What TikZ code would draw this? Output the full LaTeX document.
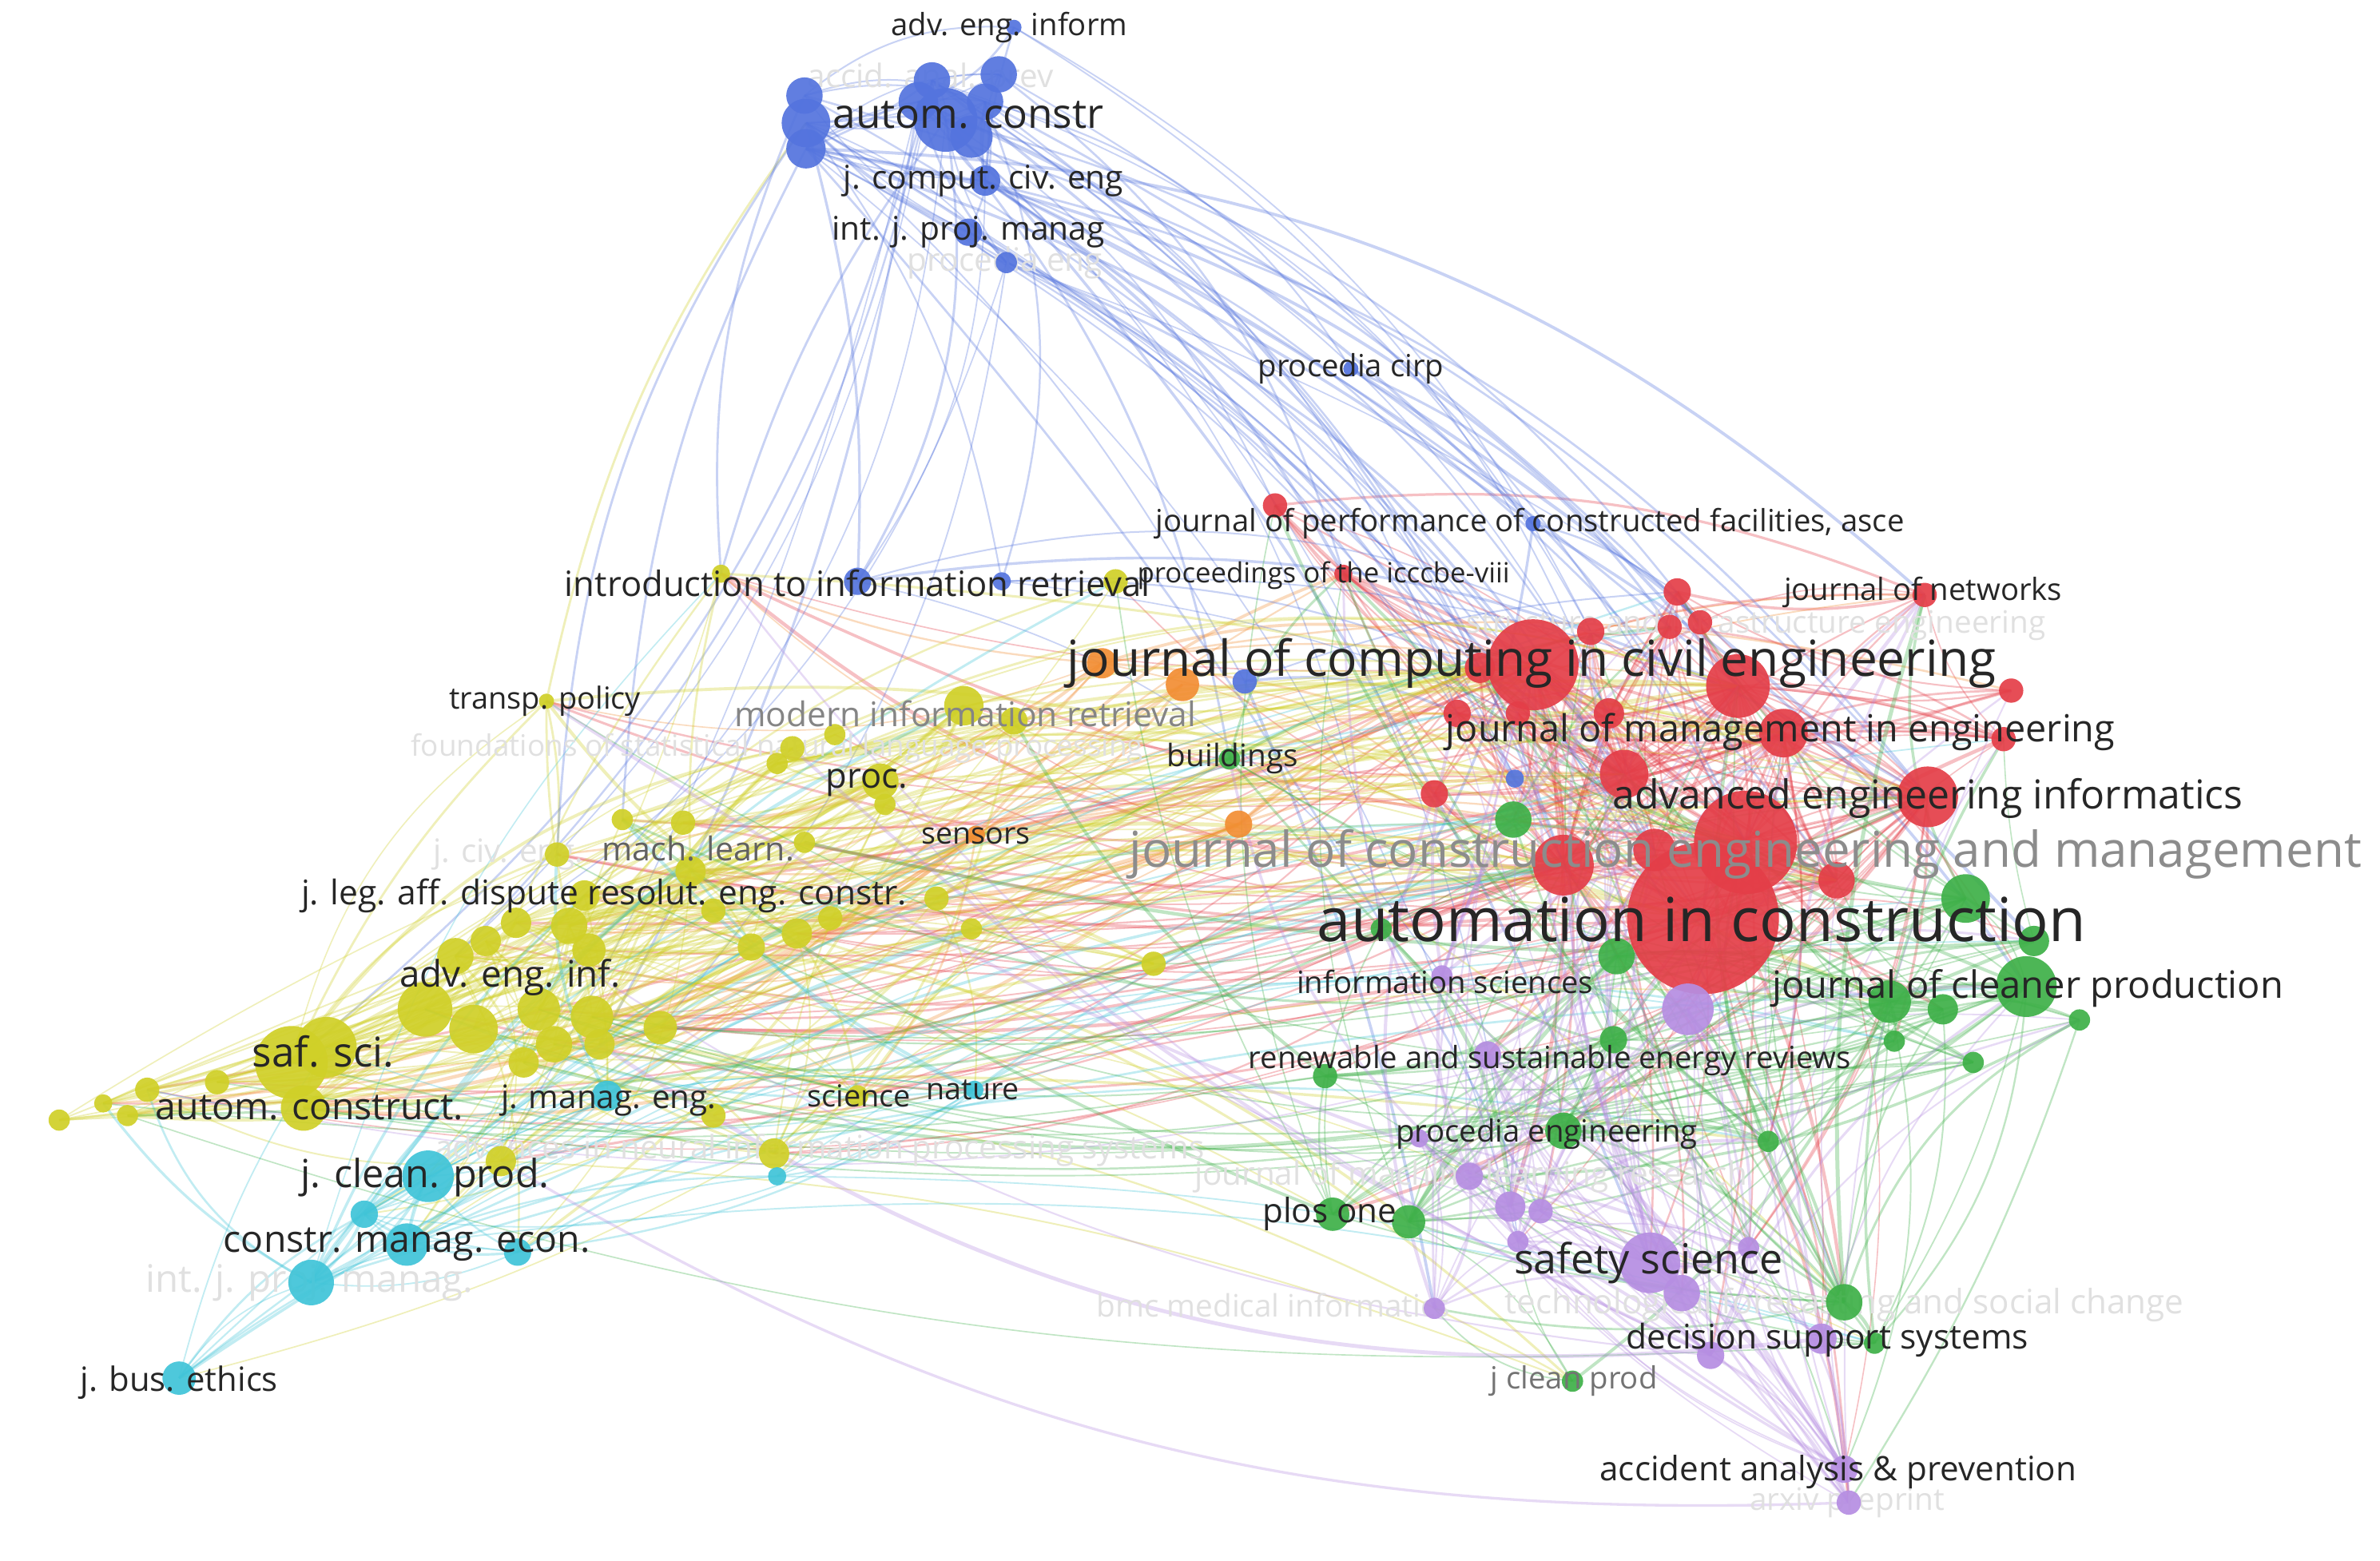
\documentclass[tikz,border=0pt]{standalone}
\usepackage{fontspec}
\setmainfont{Open Sans}
\definecolor{cR}{RGB}{228,62,72}
\definecolor{cG}{RGB}{62,176,72}
\definecolor{cB}{RGB}{84,116,222}
\definecolor{cY}{RGB}{208,208,40}
\definecolor{cC}{RGB}{64,196,216}
\definecolor{cP}{RGB}{182,142,226}
\definecolor{cO}{RGB}{242,142,52}
\definecolor{labtxt}{RGB}{38,38,38}
\pgfdeclarelayer{edges}
\pgfdeclarelayer{faintl}
\pgfsetlayers{edges,faintl,main}
\tikzset{
 ball/.style={circle,fill=#1,fill opacity=0.92,inner sep=0pt,draw=none},
 lbl/.style={inner sep=0pt,text=labtxt},
 fs/.style={font=\fontsize{#1}{#1}\selectfont},
 edge/.style={draw=#1,draw opacity=0.32},
 faint/.style={inner sep=0pt,text=black!12},
}
\newcommand\edg[6]{%
 \foreach \k in {1,...,#5}{%
  \pgfmathtruncatemacro\ia{random(1,#2)}%
  \pgfmathtruncatemacro\ib{random(1,#4)}%
  \pgfmathsetmacro\bd{6+16*rnd}%
  \pgfmathsetmacro\lw{0.45+1.1*rnd*rnd}%
  \edef\pa{#1\ia}\edef\pb{#3\ib}%
  \ifx\pa\pb\else
   \draw[edge=#6,line width=\lw pt] (#1\ia.center) to[bend left=\bd] (#3\ib.center);
  \fi}}
\def\Rlist{1/1122/605/50,2/1150/555/34,3/1010/438/30,4/1145/452/21,5/1270/525/20,6/1030/570/20,7/1175/483/16,8/1070/510/16,9/1210/580/12,10/975/440/10,11/960/470/9,12/1060/470/10,13/945/523/9,14/1048/416/9,15/1105/390/9,16/1100/413/8,17/1120/410/8,18/1268/392/8,19/1325/455/8,20/1320/487/8,21/840/333/8,22/885/378/6,23/1000/470/8,24/1090/560/14}
\def\Blist{1/623/79/21,2/531/81/16,3/530/63/12,4/531/98/13,5/605/67/13,6/614/53/12,7/658/49/12,8/649/67/12,9/649/119/10,10/638/153/9,11/663/173/7,12/668/18/5,13/565/383/9,14/660/383/6,15/820/449/8,16/890/243/5,17/1010/345/5,18/998/513/6,19/640/90/14}
\def\Glist{1/1335/650/20,2/1295/592/16,3/1245/660/14,4/1065/630/12,5/997/540/12,6/1030/745/12,7/1215/858/12,8/878/800/11,9/928/805/11,10/1280/665/10,11/1340/620/10,12/1063/685/9,13/873/709/8,14/810/500/7,15/1370/672/7,16/1248/686/7,17/1300/700/7,18/1165/752/7,19/1235/885/7,20/1036/910/7,21/910/612/7}
\def\Plist{1/1087/832/20,2/1112/665/17,3/968/775/9,4/995/795/10,5/1015/798/8,6/1000/818/7,7/935/750/6,8/1152/822/7,9/945/862/7,10/1127/893/9,11/1200/882/10,12/1215/968/9,13/1218/990/8,14/980/695/9,15/950/643/7,16/1108/852/12}
\def\Olist{1/779/451/11,2/726/437/10,3/816/543/9,4/643/550/6}
\def\Ylist{1/192/700/24,2/215/690/20,3/280/665/18,4/312/678/16,5/200/730/15,6/355/665/14,7/390/670/14,8/635/465/13,9/580/515/12,10/375/610/12,11/300/630/12,12/365/688/12,13/388/626/11,14/435/677/11,15/455/574/10,16/385/590/10,17/340/608/10,18/320/620/10,19/525/615/10,20/395/688/10,21/345/700/10,22/510/760/10,23/330/765/10,24/668/475/9,25/495/624/9,26/143/713/8,27/97/718/8,28/470/735/8,29/367/563/8,30/450/542/8,31/522/493/8,32/547/605/8,33/617/592/8,34/760/635/8,35/735/383/8,36/550/484/7,37/512/503/7,38/583/530/7,39/410/540/7,40/530/555/7,41/640/612/7,42/84/735/7,43/39/738/7,44/565/722/7,45/68/727/6,46/475/378/6,47/360/462/5,48/470/600/8}
\def\Clist{1/282/775/17,2/205/845/15,3/268/820/14,4/118/908/11,5/400/722/10,6/240/800/9,7/341/825/9,8/512/775/6,9/642/718/6}
\begin{document}
\begin{tikzpicture}[x=0.019cm,y=-0.019cm]
\useasboundingbox (0,0) rectangle (1568,1028);
% balls
\foreach \n/\x/\y/\r in \Rlist {\node[ball=cR,minimum size=\r*0.038cm] (R\n) at (\x,\y) {};}
\foreach \n/\x/\y/\r in \Blist {\node[ball=cB,minimum size=\r*0.038cm] (B\n) at (\x,\y) {};}
\foreach \n/\x/\y/\r in \Glist {\node[ball=cG,minimum size=\r*0.038cm] (G\n) at (\x,\y) {};}
\foreach \n/\x/\y/\r in \Plist {\node[ball=cP,minimum size=\r*0.038cm] (P\n) at (\x,\y) {};}
\foreach \n/\x/\y/\r in \Olist {\node[ball=cO,minimum size=\r*0.038cm] (O\n) at (\x,\y) {};}
\foreach \n/\x/\y/\r in \Ylist {\node[ball=cY,minimum size=\r*0.038cm] (Y\n) at (\x,\y) {};}
\foreach \n/\x/\y/\r in \Clist {\node[ball=cC,minimum size=\r*0.038cm] (C\n) at (\x,\y) {};}
% edges
\begin{pgfonlayer}{edges}
\fill[white] (0,0) rectangle (1568,1028);
\pgfmathsetseed{11}
\edg{R}{9}{R}{24}{100}{cR}
\edg{R}{24}{R}{24}{45}{cR}
\edg{R}{10}{Y}{48}{50}{cR}
\edg{R}{6}{P}{16}{22}{cR}
\edg{R}{8}{G}{21}{22}{cR}
\edg{O}{4}{Y}{48}{32}{cO}
\edg{O}{4}{R}{24}{20}{cO}
\edg{B}{12}{B}{19}{45}{cB}
\edg{B}{19}{R}{24}{40}{cB}
\edg{B}{12}{Y}{25}{8}{cB}
\edg{B}{19}{G}{21}{8}{cB}
\edg{B}{19}{P}{16}{6}{cB}
\edg{Y}{25}{Y}{48}{130}{cY}
\edg{Y}{48}{R}{10}{55}{cY}
\edg{Y}{48}{C}{9}{20}{cY}
\edg{Y}{48}{G}{21}{12}{cY}
\edg{C}{9}{C}{9}{30}{cC}
\edg{C}{9}{Y}{48}{15}{cC}
\edg{C}{9}{R}{24}{12}{cC}
\edg{C}{9}{G}{21}{8}{cC}
\edg{G}{10}{G}{21}{65}{cG}
\edg{G}{21}{R}{24}{40}{cG}
\edg{G}{21}{Y}{48}{25}{cG}
\edg{G}{21}{P}{16}{20}{cG}
\edg{P}{16}{P}{16}{65}{cP}
\edg{P}{16}{R}{24}{40}{cP}
\edg{P}{16}{G}{21}{15}{cP}
\edg{P}{16}{Y}{48}{8}{cP}
\draw[edge=cY,line width=0.8pt] (B2.center) to[bend right=12] (Y47.center);
\draw[edge=cY,line width=0.8pt] (Y47.center) to[bend left=8] (Y29.center);
\draw[edge=cY,line width=0.8pt] (Y47.center) to[bend right=6] (Y10.center);
\draw[edge=cY,line width=0.8pt] (Y47.center) to[bend right=10] (Y1.center);
\draw[edge=cB,line width=0.8pt] (B1.center) to[bend right=10] (Y46.center);
\draw[edge=cB,line width=0.8pt] (B3.center) to[bend right=14] (Y46.center);
\draw[edge=cB,line width=0.8pt] (B2.center) to[bend right=16] (Y29.center);
\draw[edge=cB,line width=0.8pt] (B4.center) to[bend right=12] (Y39.center);
\draw[edge=cY,line width=0.8pt] (Y46.center) to[bend right=8] (Y15.center);
\end{pgfonlayer}
% faint labels
\begin{pgfonlayer}{faintl}
\node[faint,fs=11.5] (F1) at (613,52) {accid. anal. prev};
\node[faint,fs=11.5] (F2) at (662,173) {procedia eng};
\node[faint,fs=10.5] (F3) at (512,493) {foundations of statistical natural language processing};
\node[faint,fs=11.5] (F4) at (335,563) {j. civ. eng.};
\node[faint,fs=11] (F5) at (1157,412) {structure and infrastructure engineering};
\node[faint,fs=11.5] (F6) at (540,758) {advances in neural information processing systems};
\node[faint,fs=11.5] (F7) at (969,775) {journal of machine learning research};
\node[faint,fs=11] (F8) at (839,860) {bmc medical informatics};
\node[faint,fs=12] (F9) at (1215,860) {technological forecasting and social change};
\node[faint,fs=11] (F10) at (1217,990) {arxiv preprint};
\node[faint,fs=13.5] (F11) at (204,845) {int. j. proj. manag.};
\end{pgfonlayer}
% labels
\node[lbl,fs=10.9] (L1) at (665,18) {adv. eng. inform};
\node[lbl,fs=14.6] (L2) at (638,76) {autom. constr};
\node[lbl,fs=11.6] (L3) at (648,119) {j. comput. civ. eng};
\node[lbl,fs=11.6] (L4) at (638,153) {int. j. proj. manag};
\node[lbl,fs=10.9] (L5) at (890,243) {procedia cirp};
\node[lbl,fs=10.9] (L6) at (1008,345) {journal of performance of constructed facilities, asce};
\node[lbl,fs=12.4] (L7) at (565,384) {introduction to information retrieval};
\node[lbl,fs=9.9] (L8) at (872,379) {proceedings of the icccbe-viii};
\node[lbl,fs=10.9] (L9) at (1267,390) {journal of networks};
\node[lbl,fs=17.7] (L10) at (1009,437) {journal of computing in civil engineering};
\node[lbl,fs=10.8] (L11) at (359,462) {transp. policy};
\node[lbl,fs=12.1,text=black!48] (L12) at (636,470) {modern information retrieval};
\node[lbl,fs=13.3] (L13) at (1173,482) {journal of management in engineering};
\node[lbl,fs=11] (L14) at (812,500) {buildings};
\node[lbl,fs=12.4] (L15) at (571,516) {proc.};
\node[lbl,fs=14.2] (L16) at (1270,526) {advanced engineering informatics};
\node[lbl,fs=10.7] (L17) at (643,551) {sensors};
\node[lbl,fs=11.7,text=black!62] (L18) at (460,559) {mach. learn.};
\node[lbl,fs=17.6,text=black!45] (L19) at (1150,563) {journal of construction engineering and management};
\node[lbl,fs=12.1] (L20) at (398,590) {j. leg. aff. dispute resolut. eng. constr.};
\node[lbl,fs=21.6] (L21) at (1121,606) {automation in construction};
\node[lbl,fs=13] (L22) at (336,644) {adv. eng. inf.};
\node[lbl,fs=10.9] (L23) at (952,647) {information sciences};
\node[lbl,fs=13.4] (L24) at (1336,651) {journal of cleaner production};
\node[lbl,fs=14.6] (L25) at (213,693) {saf. sci.};
\node[lbl,fs=10.9] (L26) at (1021,699) {renewable and sustainable energy reviews};
\node[lbl,fs=11.5] (L27) at (401,725) {j. manag. eng.};
\node[lbl,fs=10.8] (L28) at (566,722) {science};
\node[lbl,fs=10.7] (L29) at (641,718) {nature};
\node[lbl,fs=13.2] (L30) at (204,730) {autom. construct.};
\node[lbl,fs=10.9] (L31) at (1019,747) {procedia engineering};
\node[lbl,fs=13.8] (L32) at (280,776) {j. clean. prod.};
\node[lbl,fs=12] (L33) at (876,800) {plos one};
\node[lbl,fs=13.2] (L34) at (268,820) {constr. manag. econ.};
\node[lbl,fs=14.8] (L35) at (1086,832) {safety science};
\node[lbl,fs=12.1] (L36) at (1204,883) {decision support systems};
\node[lbl,fs=11.9] (L37) at (118,911) {j. bus. ethics};
\node[lbl,fs=10.9,text=black!55] (L38) at (1037,910) {j clean prod};
\node[lbl,fs=12] (L39) at (1211,970) {accident analysis \& prevention};
\end{tikzpicture}
\end{document}
